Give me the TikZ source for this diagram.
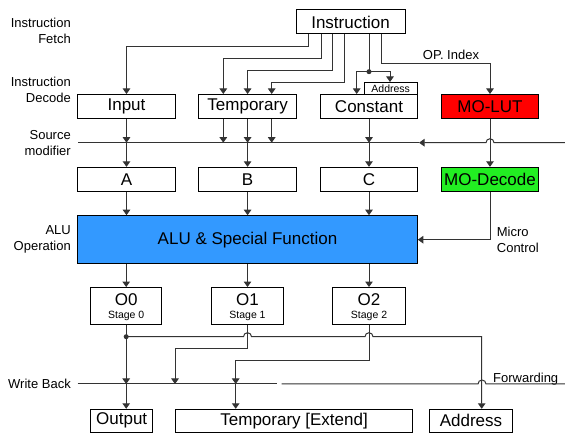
\documentclass[tikz,border=0pt]{standalone}
\usepackage{fontspec}
\setmainfont{Liberation Sans}
\usetikzlibrary{arrows.meta}
\definecolor{wirec}{HTML}{333333}
\definecolor{alublue}{HTML}{3399FF}
\definecolor{lutred}{HTML}{FF0000}
\definecolor{decgreen}{HTML}{22EE22}
\begin{document}
\begin{tikzpicture}[x=1pt,y=-1pt,
  box/.style={draw=black, line width=1pt, inner sep=0pt, font=\fontsize{17}{17}\selectfont},
  wire/.style={draw=wirec, line width=1pt},
  arr/.style={wire, -{Triangle[width=7.5pt,length=5.5pt]}},
  side/.style={font=\fontsize{13}{16}\selectfont, align=right, anchor=east, inner sep=0pt},
  small/.style={font=\fontsize{13}{16}\selectfont, align=left, anchor=west, inner sep=0pt},
  tiny/.style={font=\fontsize{10.5}{12}\selectfont, inner sep=0pt},
  dotc/.style={fill=black}]
\useasboundingbox (0,0) rectangle (565,435);
% side labels
\node[side] (lf) at (71,31.3) {Instruction\\Fetch};
\node[side] (ld) at (71,89.7) {Instruction\\Decode};
\node[side] (ls) at (71,143) {Source\\modifier};
\node[side] (la) at (71,239.5) {ALU\\Operation};
\node[side] (lw) at (71,384) {Write Back};
% boxes
\node[box, minimum width=109pt, minimum height=24pt] (instr) at (350.5,22) {Instruction};
\node[box, minimum width=97.5pt, minimum height=24pt] (input) at (126.5,106.5) {Input};
\node[box, minimum width=97.5pt, minimum height=24pt] (temp) at (247.6,106.5) {Temporary};
\node[box, minimum width=96.6pt, minimum height=24pt] (const) at (369,106.5) {Constant};
\node[box, minimum width=53.3pt, minimum height=12pt, font=\fontsize{10.5}{12}\selectfont] (addr) at (390.7,88.5) {Address};
\node[box, minimum width=96.6pt, minimum height=24pt, fill=lutred] (molut) at (490,106.5) {MO-LUT};
\node[box, minimum width=97.5pt, minimum height=24.3pt] (A) at (126.5,179.5) {A};
\node[box, minimum width=97.5pt, minimum height=24.3pt] (B) at (247.6,179.5) {B};
\node[box, minimum width=96.6pt, minimum height=24.3pt] (C) at (369,179.5) {C};
\node[box, minimum width=96.6pt, minimum height=24.3pt, fill=decgreen] (modec) at (490,179.5) {MO-Decode};
\node[box, minimum width=339.6pt, minimum height=48pt, fill=alublue] (alu) at (247.5,239.7) {ALU \& Special Function};
\node[box, minimum width=71pt, minimum height=36.5pt] (o0) at (126.2,305.8) {};
\node[box, minimum width=71.6pt, minimum height=36.5pt] (o1) at (247.5,305.8) {};
\node[box, minimum width=73.4pt, minimum height=36.5pt] (o2) at (369,305.8) {};
\node[font=\fontsize{17}{17}\selectfont, inner sep=0pt] (o0t) at (126.2,300) {O0};
\node[font=\fontsize{17}{17}\selectfont, inner sep=0pt] (o1t) at (247.5,300) {O1};
\node[font=\fontsize{17}{17}\selectfont, inner sep=0pt] (o2t) at (369,300) {O2};
\node[tiny] (o0s) at (126.2,316) {Stage 0};
\node[tiny] (o1s) at (247.5,316) {Stage 1};
\node[tiny] (o2s) at (369,316) {Stage 2};
\node[box, minimum width=62pt, minimum height=23pt] (output) at (121.7,420.8) {Output};
\node[box, minimum width=236.8pt, minimum height=23pt] (tempext) at (294.1,420.8) {Temporary [Extend]};
\node[box, minimum width=83.4pt, minimum height=23pt] (addrout) at (471,420.8) {Address};
% text labels
\node[small] (opidx) at (422.7,55) {OP. Index};
\node[small] (micro) at (496.7,239.5) {Micro\\Control};
\node[small, anchor=south west] (fwd) at (493,385.5) {Forwarding};
% bus coordinates
\coordinate (sml) at (77.7,142.7);
\coordinate (smr) at (565,142.7);
\coordinate (wbl) at (77.7,384);
\coordinate (wbr) at (565,384);
% instruction fetch wires
\draw[arr] (instr.south -| 308,0) |- (input.north |- 0,46.7) -- (input.north);
\draw[arr] (instr.south -| 321,0) |- (223.3,58.3) -- (temp.north -| 223.3,0);
\draw[arr] (instr.south -| 332,0) |- (temp.north |- 0,70.7) -- (temp.north);
\draw[arr] (instr.south -| 344,0) |- (271.7,82.3) -- (temp.north -| 271.7,0);
\draw[wire] (instr.south -| 369,0) -- (369,71.7) coordinate (cj);
\fill[wirec] (cj) circle (2.5pt);
\draw[arr] (cj) -| (const.north -| 356.7,0);
\draw[arr] (cj) -| (addr.north -| 390,0);
\draw[arr] (instr.south -| 381,0) |- (molut.north |- 0,63.3) -- (molut.north);
% source modifier bus
\draw[arr] (smr) -- (494,142.7) arc (0:180:4pt) -- (419,142.7);
\draw[wire] (419,142.7) -- (sml);
\draw[arr] (input.south) -- (input.south |- sml);
\draw[arr] (input.south |- sml) -- (A.north);
\draw[arr] (temp.south -| 223.3,0) -- (223.3,142.7);
\draw[arr] (temp.south) -- (temp.south |- sml);
\draw[arr] (temp.south -| 271.7,0) -- (271.7,142.7);
\draw[arr] (temp.south |- sml) -- (B.north);
\draw[arr] (const.south) -- (const.south |- sml);
\draw[arr] (const.south |- sml) -- (C.north);
\draw[arr] (molut.south) -- (modec.north);
% ALU
\draw[arr] (A.south) -- (A.south |- alu.north);
\draw[arr] (B.south) -- (B.south |- alu.north);
\draw[arr] (C.south) -- (C.south |- alu.north);
\draw[arr] (modec.south) |- (alu.east);
\draw[arr] (alu.south -| o0.north) -- (o0.north);
\draw[arr] (alu.south -| o1.north) -- (o1.north);
\draw[arr] (alu.south -| o2.north) -- (o2.north);
% write back
\draw[wire] (wbl) -- (276.7,384);
\draw[wire] (281.7,384) -- (478,384) arc (180:0:4pt) -- (wbr);
\draw[wire] (o0.south) -- (o0.south |- 0,336.7) coordinate (d0);
\fill[wirec] (d0) circle (2.5pt);
\draw[arr] (d0) -- (d0 |- wbl);
\draw[arr] (d0 |- wbl) -- (output.north -| d0);
\draw[arr] (d0) -- (243.5,336.7) arc (180:0:4pt) -- (365,336.7) arc (180:0:4pt) -- (481.7,336.7) -- (addrout.north -| 481.7,0);
\draw[arr] (o1.south) |- (175,349) -- (175,384);
\draw[arr] (o2.south) |- (235.7,360.7) -- (235.7,384);
\draw[arr] (235.7,384) -- (tempext.north -| 235.7,0);
\end{tikzpicture}
\end{document}
